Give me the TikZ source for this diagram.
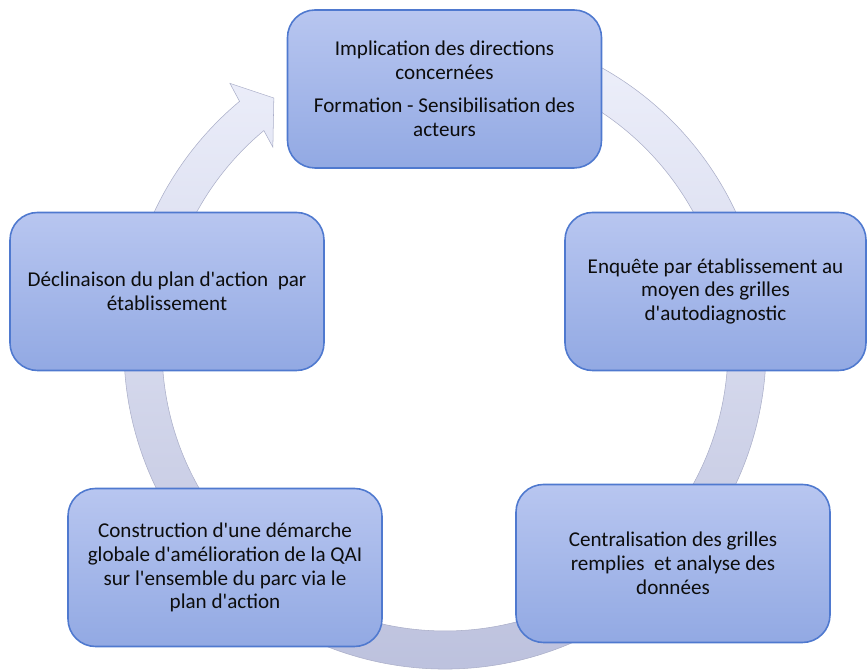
\documentclass[tikz,border=0pt]{standalone}
\usepackage{fontspec}
\setmainfont{Carlito}
\usetikzlibrary{calc}
\usetikzlibrary{positioning}

\definecolor{boxtop}{RGB}{184,198,240}
\definecolor{boxbottom}{RGB}{146,169,227}
\definecolor{boxline}{RGB}{79,121,207}
\definecolor{ringtop}{RGB}{238,240,251}
\definecolor{ringbottom}{RGB}{186,191,220}
\definecolor{ringline}{RGB}{170,174,200}
\newcommand{\apos}{\textquotesingle}

\begin{document}
\begin{tikzpicture}[
  stage/.style = {draw=boxline, line width=0.9pt, rounded corners=0.55cm,
    top color=boxtop, bottom color=boxbottom,
    minimum width=6.28cm, minimum height=3.16cm, inner sep=0pt,
    align=center, font=\fontsize{12}{13.6}\selectfont, text=black!95},
  ring/.style = {top color=ringtop, bottom color=ringbottom, draw=ringline, line width=0.3pt}
  ]
	\useasboundingbox (0,0) rectangle (17.34,13.4);

	\coordinate (@c) at (8.9,6.44);
	\coordinate (@1) at (8.89,11.62);
	\coordinate (@2) at (14.31,7.57);
	\coordinate (@3) at (13.46,2.13);
	\coordinate (@4) at (4.5,2.05);
	\coordinate (@5) at (3.34,7.57);

	% the circular arrow behind the boxes
	\begin{scope}[shift={(@c)}]
	\shade[ring] (75:6.42) arc[start angle=75, end angle=-230.2, radius=6.42]
		-- (-230.9:6.82) -- (-235.6:6.06) -- (-229.4:5.29) -- (-230.2:5.66)
		arc[start angle=-230.2, end angle=75, radius=5.66] -- cycle;
	\end{scope}

	\node[stage] (impl) at (@1) {Implication des directions\\concernées\\[5pt]Formation - Sensibilisation des\\acteurs};
	\node[stage, minimum width=6.02cm] (enq) at (@2) {Enquête par établissement au\\moyen des grilles\\d\apos autodiagnostic};
	\node[stage] (centr) at (@3) {Centralisation des grilles\\remplies\ \ et analyse des\\données};
	\node[stage] (constr) at (@4) {Construction d\apos une démarche\\globale d\apos amélioration de la QAI\\sur l\apos ensemble du parc via le\\plan d\apos action};
	\node[stage] (decl) at (@5) {Déclinaison du plan d\apos action\ \ par\\établissement};

\end{tikzpicture}
\end{document}
